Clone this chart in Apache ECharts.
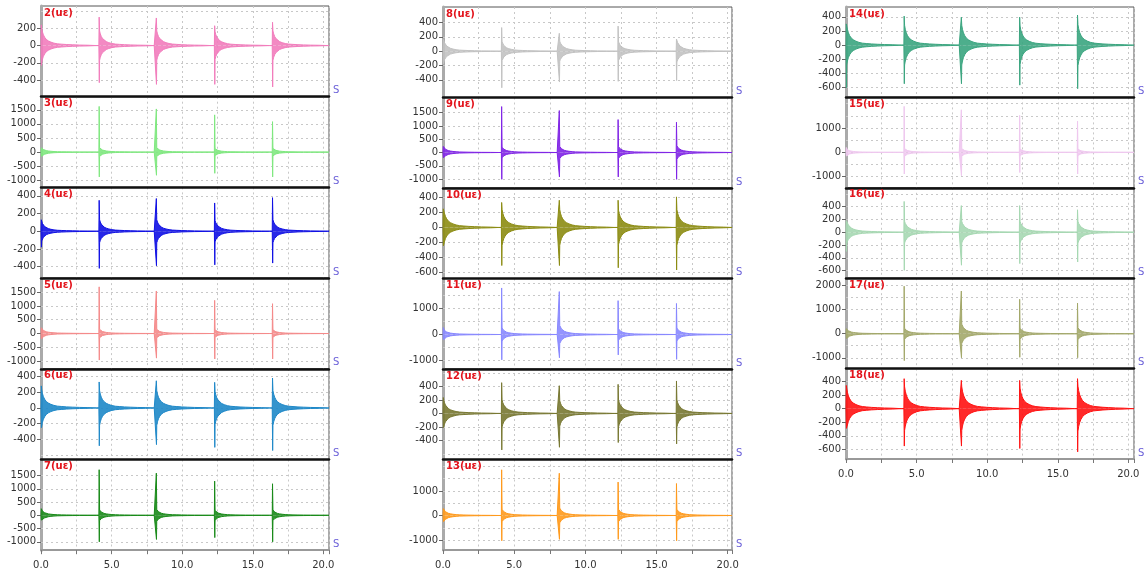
<!DOCTYPE html>
<html>
<head>
<meta charset="utf-8">
<script src="https://cdn.jsdelivr.net/npm/echarts@6/dist/echarts.min.js"></script>
<style>html,body{margin:0;padding:0;background:#fff}#main{width:1146px;height:579px}</style>
</head>
<body>
<div id="main"></div>
<script>
var chart = echarts.init(document.getElementById('main'));

// 通道名
var channels = ['2', '3', '4', '5', '6', '7', '8', '9', '10', '11', '12', '13', '14', '15', '16', '17', '18'];
var colors = ['#f27cbc', '#7fe87f', '#1010e4', '#f58a8a', '#1e88c8', '#188a18', '#c2c2c2', '#8024e6',
    '#8c8c12', '#8888ff', '#787832', '#ff9a1c', '#3aa57f', '#efc8ef', '#a6d8b2', '#a3a86a', '#ff1212'];
// 冲击时刻 (s)
var impactTimes = [0.02, 4.12, 8.17, 12.3, 16.4];
// 每次冲击的峰值
var spikeUp = [
    [240, 330, 320, 230, 270], [150, 1620, 1530, 1320, 1080], [130, 350, 370, 320, 380],
    [210, 1690, 1540, 1200, 1080], [280, 330, 345, 325, 380], [250, 1720, 1590, 1290, 1190],
    [165, 330, 250, 350, 170], [230, 1730, 1580, 1240, 1140], [250, 335, 365, 365, 410],
    [270, 1800, 1660, 1310, 1200], [235, 455, 410, 430, 480], [280, 1860, 1720, 1360, 1300],
    [300, 410, 395, 395, 425], [200, 1890, 1750, 1520, 1280], [180, 480, 415, 415, 350],
    [210, 1980, 1780, 1435, 1280], [340, 440, 415, 415, 440]
];
var spikeDown = [
    [-230, -430, -450, -450, -480], [-150, -880, -820, -750, -880], [-180, -420, -390, -380, -360],
    [-200, -960, -890, -920, -920], [-250, -480, -465, -500, -540], [-180, -1000, -910, -840, -1000],
    [-175, -510, -430, -420, -410], [-200, -1010, -920, -920, -1010], [-245, -510, -510, -540, -570],
    [-200, -980, -900, -790, -960], [-210, -540, -500, -430, -450], [-250, -1030, -970, -970, -1030],
    [-600, -545, -545, -565, -615], [-150, -890, -960, -830, -890], [-300, -595, -515, -490, -465],
    [-200, -1120, -1000, -980, -1000], [-290, -550, -550, -585, -635]
];
// 振荡段幅值
var burstAmp = [
    [200, 170, 170, 160, 170], [150, 150, 150, 120, 130], [110, 130, 130, 120, 130],
    [180, 150, 150, 130, 130], [230, 220, 220, 210, 220], [200, 200, 220, 180, 200],
    [150, 130, 140, 130, 150], [200, 200, 230, 220, 250], [240, 240, 240, 230, 240],
    [200, 250, 350, 220, 250], [200, 200, 190, 200, 200], [250, 250, 300, 250, 250],
    [280, 280, 280, 270, 290], [130, 150, 150, 130, 130], [180, 170, 170, 170, 170],
    [200, 230, 400, 230, 250], [300, 320, 320, 300, 330]
];
// 衰减包络 (冲击后时间, 相对幅值)
var decayT = [0.03, 0.08, 0.15, 0.24, 0.35, 0.5, 0.68, 0.9, 1.15, 1.45, 1.8, 2.2, 2.7, 3.3, 3.9];
var decayA = [1.0, 0.8, 0.62, 0.48, 0.36, 0.27, 0.2, 0.14, 0.1, 0.08, 0.06, 0.045, 0.03, 0.02, 0];
// 纵轴范围与刻度
var yMin = [-593, -1250, -530, -1277, -654, -1316, -646, -1337, -684, -1335, -681, -1405, -738, -1459, -718, -1452, -740];
var yMax = [459, 1964, 496, 2007, 497, 2105, 617, 2072, 529, 2167, 657, 2279, 539, 2260, 693, 2314, 588];
var yTicks = [
    [200, 0, -200, -400], [1500, 1000, 500, 0, -500, -1000], [400, 200, 0, -200, -400],
    [1500, 1000, 500, 0, -500, -1000], [400, 200, 0, -200, -400], [1500, 1000, 500, 0, -500, -1000],
    [400, 200, 0, -200, -400], [1500, 1000, 500, 0, -500, -1000], [400, 200, 0, -200, -400, -600],
    [1000, 0, -1000], [400, 200, 0, -200, -400], [1000, 0, -1000],
    [400, 200, 0, -200, -400, -600], [1000, 0, -1000], [400, 200, 0, -200, -400, -600],
    [2000, 1000, 0, -1000], [400, 200, 0, -200, -400, -600]
];
var gridStep = [200, 500, 200, 500, 200, 500, 200, 500, 200, 500, 200, 500, 200, 500, 200, 500, 200];

// 三列布局
var colOf = [0, 0, 0, 0, 0, 0, 1, 1, 1, 1, 1, 1, 2, 2, 2, 2, 2];
var rowOf = [0, 1, 2, 3, 4, 5, 0, 1, 2, 3, 4, 5, 0, 1, 2, 3, 4];
var colLeft = [41, 443, 846];
var colWidth = [288, 289, 288];
var colTop = [6, 7, 7];
var panelH = [90.7, 90.5, 90.4];
var colRows = [6, 6, 5];
var xMaxCol = [20.4, 20.3, 20.4];

var grids = [], xAxes = [], yAxes = [], series = [], titles = [];
var font = 'DejaVu Sans';

channels.forEach(function (name, i) {
    var c = colOf[i], r = rowOf[i];
    var top = colTop[c] + r * panelH[c];
    var isLast = r === colRows[c] - 1;
    var xMax = xMaxCol[c];

    grids.push({
        left: colLeft[c], top: top, width: colWidth[c], height: panelH[c],
        show: true, borderColor: '#555', borderWidth: 1
    });
    titles.push({
        text: name + '(uε)', left: colLeft[c] + 3, top: top + 2, padding: 0,
        textStyle: {color: '#e3141c', fontSize: 10, fontWeight: 'bold', fontFamily: font}
    });
    xAxes.push({
        gridIndex: i, type: 'value', min: 0, max: xMax, interval: 2.5,
        name: 'S', nameLocation: 'end', nameGap: 4,
        nameTextStyle: {color: '#6a5fd8', fontSize: 10, fontFamily: font, verticalAlign: 'bottom', padding: [0, 0, 1, 0]},
        axisLine: {show: true, onZero: false, lineStyle: isLast ? {color: '#999', width: 2} : {color: '#111', width: 2.5}},
        axisTick: {show: isLast, length: 4, lineStyle: {color: '#777'}},
        axisLabel: {
            show: isLast, color: '#333', fontSize: 10, fontFamily: font, margin: 10,
            formatter: function (v) { return Math.abs(v % 5) < 1e-6 ? v.toFixed(1) : ''; }
        },
        splitLine: {show: true, lineStyle: {color: '#c8c8c8', type: [2, 3], width: 1}}
    });
    yAxes.push({
        gridIndex: i, type: 'value', min: yMin[i], max: yMax[i],
        axisLine: {show: true, onZero: false, lineStyle: {color: '#aaa', width: 3}},
        axisTick: {show: true, length: 4, customValues: yTicks[i], lineStyle: {color: '#666'}},
        axisLabel: {
            show: true, customValues: yTicks[i], color: '#333', fontSize: 10, fontFamily: font, margin: 5,
            formatter: function (v) { return String(v); }
        },
        splitLine: {show: false}
    });

    // 包络线
    var up = [[0, 0]], down = [[0, 0]];
    impactTimes.forEach(function (t, k) {
        if (k > 0) { up.push([t - 0.02, 0]); down.push([t - 0.02, 0]); }
        up.push([t, spikeUp[i][k]]);
        down.push([t + 0.01, spikeDown[i][k]]);
        decayT.forEach(function (dt, j) {
            up.push([t + dt, burstAmp[i][k] * decayA[j]]);
            down.push([t + dt, -burstAmp[i][k] * decayA[j]]);
        });
    });
    up.push([xMax, 0]);
    down.push([xMax, 0]);

    // 水平虚线网格, 避开边框
    var margin = (yMax[i] - yMin[i]) * 0.04;
    var gridVals = [];
    for (var v = Math.ceil(yMin[i] / gridStep[i]) * gridStep[i]; v <= yMax[i]; v += gridStep[i]) {
        if (v > yMin[i] + margin && v < yMax[i] - margin) gridVals.push({yAxis: v});
    }

    series.push({
        type: 'line', xAxisIndex: i, yAxisIndex: i, data: up, symbol: 'none', z: 3,
        lineStyle: {color: colors[i], width: 1}, areaStyle: {color: colors[i], opacity: 0.9, origin: 'auto'},
        markLine: {
            silent: true, symbol: 'none', z: 1, label: {show: false},
            lineStyle: {color: '#c8c8c8', type: [2, 3], width: 1}, data: gridVals
        }
    });
    series.push({
        type: 'line', xAxisIndex: i, yAxisIndex: i, data: down, symbol: 'none', z: 3,
        lineStyle: {color: colors[i], width: 1}, areaStyle: {color: colors[i], opacity: 0.9, origin: 'auto'}
    });
});

var option = {
    animation: false,
    backgroundColor: '#fff',
    title: titles,
    grid: grids,
    xAxis: xAxes,
    yAxis: yAxes,
    series: series
};
chart.setOption(option);
</script>
</body>
</html>
